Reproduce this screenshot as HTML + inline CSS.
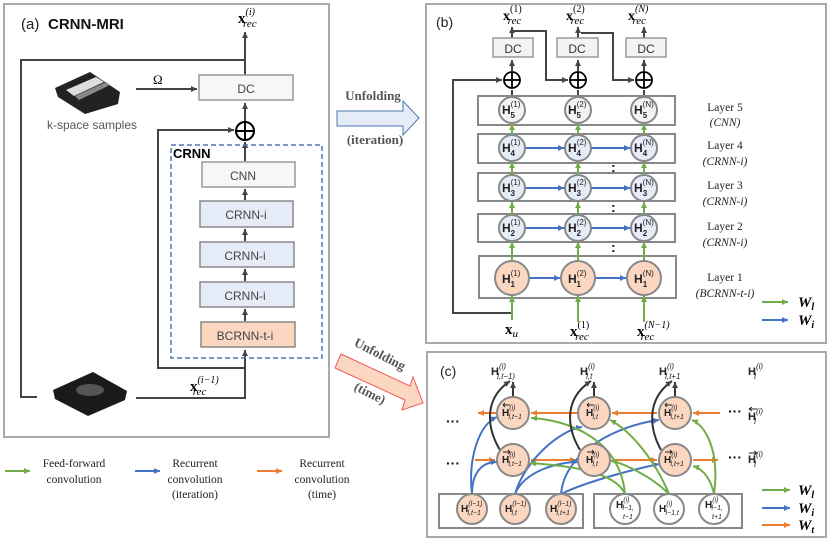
<!DOCTYPE html>
<html><head><meta charset="utf-8"><style>
html,body{margin:0;padding:0;background:#fff}
svg{display:block}
.s{font-family:"Liberation Sans",sans-serif}
.r{font-family:"Liberation Serif",serif}
</style></head><body>
<svg width="830" height="546" viewBox="0 0 830 546" xmlns="http://www.w3.org/2000/svg">
<defs>
<marker id="k" markerWidth="8" markerHeight="8" refX="6" refY="3" orient="auto" markerUnits="userSpaceOnUse"><path d="M0,0 L6,3 L0,6z" fill="#444"/></marker>
<marker id="g" markerWidth="8" markerHeight="8" refX="6" refY="3" orient="auto" markerUnits="userSpaceOnUse"><path d="M0,0 L6,3 L0,6z" fill="#70ad47"/></marker>
<marker id="b" markerWidth="8" markerHeight="8" refX="6" refY="3" orient="auto" markerUnits="userSpaceOnUse"><path d="M0,0 L6,3 L0,6z" fill="#4472c4"/></marker>
<marker id="o" markerWidth="8" markerHeight="8" refX="6" refY="3" orient="auto" markerUnits="userSpaceOnUse"><path d="M0,0 L6,3 L0,6z" fill="#ed7d31"/></marker>
</defs>

<!-- ===== Panel (a) ===== -->
<rect x="4" y="4" width="325" height="433" fill="#fff" stroke="#aaa" stroke-width="2"/>
<text x="21" y="29" class="s" font-size="15" fill="#222">(a)</text>
<text x="48" y="29" class="s" font-size="15" font-weight="bold" fill="#111">CRNN-MRI</text>
<text x="238" y="23" class="r" font-size="15" font-weight="bold">x<tspan font-size="10" dy="-8" font-weight="normal" font-style="italic">(i)</tspan><tspan font-size="11" dx="-12" dy="12" font-weight="normal" font-style="italic">rec</tspan></text>
<g stroke="#444" stroke-width="2" fill="none">
<line x1="245" y1="75" x2="245" y2="32" marker-end="url(#k)"/>
<polyline points="245,60 21,60 21,397 37,397"/>
<line x1="136" y1="89" x2="197" y2="89" marker-end="url(#k)"/>
<line x1="245" y1="122" x2="245" y2="103" marker-end="url(#k)"/>
<polyline points="245,368 158,368 158,130 234,130" marker-end="url(#k)"/>
<line x1="245" y1="161" x2="245" y2="142" marker-end="url(#k)"/>
<line x1="245" y1="200" x2="245" y2="189" marker-end="url(#k)"/>
<line x1="245" y1="241" x2="245" y2="229" marker-end="url(#k)"/>
<line x1="245" y1="281" x2="245" y2="269" marker-end="url(#k)"/>
<line x1="245" y1="321" x2="245" y2="309" marker-end="url(#k)"/>
<polyline points="136,398 245,398 245,350" marker-end="url(#k)"/>
</g>
<text x="153" y="84" class="r" font-size="13">Ω</text>
<rect x="199" y="75" width="94" height="25" fill="#f7f7f7" stroke="#999" stroke-width="1.5"/>
<text x="246" y="93" class="s" font-size="12" fill="#444" text-anchor="middle">DC</text>
<circle cx="245" cy="131" r="9" fill="#fff" stroke="#000" stroke-width="2"/>
<line x1="236" y1="131" x2="254" y2="131" stroke="#000" stroke-width="2"/>
<line x1="245" y1="122" x2="245" y2="140" stroke="#000" stroke-width="2"/>
<rect x="171" y="145" width="151" height="213" fill="none" stroke="#4a7ab0" stroke-width="1.5" stroke-dasharray="5,3"/>
<text x="173" y="158" class="s" font-size="13" font-weight="bold">CRNN</text>
<rect x="202" y="162" width="93" height="25" fill="#f7f7f7" stroke="#999" stroke-width="1.5"/>
<text x="243" y="180" class="s" font-size="12" fill="#444" text-anchor="middle">CNN</text>
<rect x="200" y="201" width="93" height="26" fill="#e5ecf7" stroke="#888" stroke-width="1.5"/>
<text x="246" y="219" class="s" font-size="12" fill="#444" text-anchor="middle">CRNN-i</text>
<rect x="200" y="242" width="94" height="25" fill="#e5ecf7" stroke="#888" stroke-width="1.5"/>
<text x="245" y="260" class="s" font-size="12" fill="#444" text-anchor="middle">CRNN-i</text>
<rect x="200" y="282" width="94" height="25" fill="#e5ecf7" stroke="#888" stroke-width="1.5"/>
<text x="245" y="300" class="s" font-size="12" fill="#444" text-anchor="middle">CRNN-i</text>
<rect x="201" y="322" width="94" height="25" fill="#fbd7c2" stroke="#888" stroke-width="1.5"/>
<text x="245" y="340" class="s" font-size="12" fill="#444" text-anchor="middle">BCRNN-t-i</text>
<!-- k-space image -->
<polygon points="55,88 90,72 120,92 118,104 85,114 58,97" fill="#222"/>
<polygon points="66,90 96,77 104,82 74,96" fill="#ddd"/>
<polygon points="75,96 106,82 110,85 79,100" fill="#888"/>
<text x="92" y="129" class="s" font-size="12" fill="#555" text-anchor="middle">k-space samples</text>
<!-- image slab -->
<polygon points="53,390 93,372 127,391 125,400 88,416 55,399" fill="#1a1a1a"/>
<ellipse cx="90" cy="390" rx="14" ry="6" fill="#555"/>
<text x="190" y="391" class="r" font-size="15" font-weight="bold">x<tspan font-size="10" dy="-8" font-weight="normal" font-style="italic">(i−1)</tspan><tspan font-size="11" dx="-26" dy="12" font-weight="normal" font-style="italic">rec</tspan></text>

<!-- Unfolding arrows -->
<text x="373" y="100" class="r" font-size="13" font-weight="bold" fill="#555" text-anchor="middle">Unfolding</text>
<polygon points="337,111 403,111 403,101 419,118 403,135 403,126 337,126" fill="#e5ecf7" stroke="#4a7ab0" stroke-width="1"/>
<text x="375" y="144" class="r" font-size="13" font-weight="bold" fill="#555" text-anchor="middle">(iteration)</text>
<text x="378" y="358" class="r" font-size="13" font-weight="bold" fill="#555" text-anchor="middle" transform="rotate(27 378 358)">Unfolding</text>
<polygon points="341,354 410,386 413,377 423,403 402,410 405,400 335,368" fill="#fbd7c2" stroke="#f05a5a" stroke-width="1"/>
<text x="368" y="397" class="r" font-size="13" font-weight="bold" fill="#555" text-anchor="middle" transform="rotate(27 368 397)">(time)</text>

<!-- bottom-left legend -->
<line x1="5" y1="471" x2="30" y2="471" stroke="#70ad47" stroke-width="2" marker-end="url(#g)"/>
<text x="74" y="467" class="r" font-size="11.5" fill="#222" text-anchor="middle">Feed-forward</text>
<text x="74" y="483" class="r" font-size="11.5" fill="#222" text-anchor="middle">convolution</text>
<line x1="135" y1="471" x2="160" y2="471" stroke="#4472c4" stroke-width="2" marker-end="url(#b)"/>
<text x="195" y="467" class="r" font-size="11.5" fill="#222" text-anchor="middle">Recurrent</text>
<text x="195" y="483" class="r" font-size="11.5" fill="#222" text-anchor="middle">convolution</text>
<text x="195" y="498" class="r" font-size="11.5" fill="#222" text-anchor="middle">(iteration)</text>
<line x1="257" y1="471" x2="282" y2="471" stroke="#ed7d31" stroke-width="2" marker-end="url(#o)"/>
<text x="322" y="467" class="r" font-size="11.5" fill="#222" text-anchor="middle">Recurrent</text>
<text x="322" y="483" class="r" font-size="11.5" fill="#222" text-anchor="middle">convolution</text>
<text x="322" y="498" class="r" font-size="11.5" fill="#222" text-anchor="middle">(time)</text>

<!-- ===== Panel (b) ===== -->
<rect x="426" y="4" width="400" height="339" fill="#fff" stroke="#aaa" stroke-width="2"/>
<text x="436" y="27" class="s" font-size="14" fill="#222">(b)</text>
<g class="r" font-size="14" font-weight="bold">
<text x="503" y="20">x<tspan font-size="10" dy="-8" font-weight="normal">(1)</tspan><tspan font-size="11" dx="-14" dy="12" font-weight="normal" font-style="italic">rec</tspan></text>
<text x="566" y="20">x<tspan font-size="10" dy="-8" font-weight="normal">(2)</tspan><tspan font-size="11" dx="-14" dy="12" font-weight="normal" font-style="italic">rec</tspan></text>
<text x="628" y="20">x<tspan font-size="10" dy="-8" font-weight="normal" font-style="italic">(N)</tspan><tspan font-size="11" dx="-16" dy="12" font-weight="normal" font-style="italic">rec</tspan></text>
</g>
<g stroke="#444" stroke-width="2" fill="none">
<line x1="512" y1="38" x2="512" y2="27" marker-end="url(#k)"/>
<line x1="578" y1="38" x2="578" y2="27" marker-end="url(#k)"/>
<line x1="644" y1="38" x2="644" y2="27" marker-end="url(#k)"/>
<polyline points="512,31 546,31 546,80 568,80" marker-end="url(#k)"/>
<polyline points="581,33 613,33 613,80 634,80" marker-end="url(#k)"/>
<polyline points="512,313 453,313 453,80 502,80" marker-end="url(#k)"/>
<line x1="512" y1="71" x2="512" y2="60" marker-end="url(#k)"/>
<line x1="578" y1="71" x2="578" y2="60" marker-end="url(#k)"/>
<line x1="644" y1="71" x2="644" y2="60" marker-end="url(#k)"/>
<line x1="512" y1="96" x2="512" y2="90"/>
<line x1="578" y1="96" x2="578" y2="90"/>
<line x1="644" y1="96" x2="644" y2="90"/>
</g>
<g fill="#f3f3f3" stroke="#999" stroke-width="1.5">
<rect x="493" y="38" width="40" height="19"/><rect x="557" y="38" width="41" height="19"/><rect x="626" y="38" width="40" height="19"/>
</g>
<g class="s" font-size="12" fill="#333" text-anchor="middle">
<text x="513" y="53">DC</text><text x="577" y="53">DC</text><text x="646" y="53">DC</text>
</g>
<g fill="#fff" stroke="#000" stroke-width="1.8">
<circle cx="512" cy="80" r="8"/><circle cx="578" cy="80" r="8"/><circle cx="644" cy="80" r="8"/>
</g>
<g stroke="#000" stroke-width="1.8">
<line x1="504" y1="80" x2="520" y2="80"/><line x1="512" y1="72" x2="512" y2="88"/>
<line x1="570" y1="80" x2="586" y2="80"/><line x1="578" y1="72" x2="578" y2="88"/>
<line x1="636" y1="80" x2="652" y2="80"/><line x1="644" y1="72" x2="644" y2="88"/>
</g>
<g fill="#fff" stroke="#888" stroke-width="2">
<rect x="478" y="96" width="197" height="29"/>
<rect x="478" y="134" width="197" height="29"/>
<rect x="478" y="173" width="197" height="28"/>
<rect x="478" y="214" width="197" height="28"/>
<rect x="479" y="256" width="197" height="42"/>
</g>
<g stroke="#70ad47" stroke-width="2" marker-end="url(#g)">
<line x1="512" y1="134" x2="512" y2="124"/><line x1="578" y1="134" x2="578" y2="124"/><line x1="644" y1="134" x2="644" y2="124"/>
<line x1="512" y1="174" x2="512" y2="162"/><line x1="578" y1="174" x2="578" y2="162"/><line x1="644" y1="174" x2="644" y2="162"/>
<line x1="512" y1="214" x2="512" y2="202"/><line x1="578" y1="214" x2="578" y2="202"/><line x1="644" y1="214" x2="644" y2="202"/>
<line x1="512" y1="261" x2="512" y2="242"/><line x1="578" y1="261" x2="578" y2="242"/><line x1="644" y1="261" x2="644" y2="242"/>
<line x1="512" y1="320" x2="512" y2="296"/><line x1="578" y1="322" x2="578" y2="296"/><line x1="644" y1="322" x2="644" y2="296"/>
</g>
<g stroke="#4472c4" stroke-width="2" marker-end="url(#b)">
<line x1="525" y1="148" x2="564" y2="148"/><line x1="591" y1="148" x2="630" y2="148"/>
<line x1="525" y1="188" x2="564" y2="188"/><line x1="591" y1="188" x2="630" y2="188"/>
<line x1="525" y1="228" x2="564" y2="228"/><line x1="591" y1="228" x2="630" y2="228"/>
<line x1="529" y1="278" x2="560" y2="278"/><line x1="595" y1="278" x2="626" y2="278"/>
</g>
<g stroke="#888" stroke-width="2">
<circle cx="512" cy="110" r="13" fill="#f3f3f3"/><circle cx="578" cy="110" r="13" fill="#f3f3f3"/><circle cx="644" cy="110" r="13" fill="#f3f3f3"/>
<circle cx="512" cy="148" r="13" fill="#e5ecf7"/><circle cx="578" cy="148" r="13" fill="#e5ecf7"/><circle cx="644" cy="148" r="13" fill="#e5ecf7"/>
<circle cx="512" cy="188" r="13" fill="#e5ecf7"/><circle cx="578" cy="188" r="13" fill="#e5ecf7"/><circle cx="644" cy="188" r="13" fill="#e5ecf7"/>
<circle cx="512" cy="228" r="13" fill="#e5ecf7"/><circle cx="578" cy="228" r="13" fill="#e5ecf7"/><circle cx="644" cy="228" r="13" fill="#e5ecf7"/>
<circle cx="512" cy="278" r="17" fill="#fbd7c2"/><circle cx="578" cy="278" r="17" fill="#fbd7c2"/><circle cx="644" cy="278" r="17" fill="#fbd7c2"/>
</g>
<g class="s" font-size="12" font-weight="bold" fill="#222">
<text x="502" y="114">H<tspan font-size="8" font-weight="normal" dy="-7">(1)</tspan><tspan font-size="8" dx="-10" dy="11">5</tspan></text>
<text x="568" y="114">H<tspan font-size="8" font-weight="normal" dy="-7">(2)</tspan><tspan font-size="8" dx="-10" dy="11">5</tspan></text>
<text x="634" y="114">H<tspan font-size="8" font-weight="normal" dy="-7">(N)</tspan><tspan font-size="8" dx="-11" dy="11">5</tspan></text>
<text x="502" y="152">H<tspan font-size="8" font-weight="normal" dy="-7">(1)</tspan><tspan font-size="8" dx="-10" dy="11">4</tspan></text>
<text x="568" y="152">H<tspan font-size="8" font-weight="normal" dy="-7">(2)</tspan><tspan font-size="8" dx="-10" dy="11">4</tspan></text>
<text x="634" y="152">H<tspan font-size="8" font-weight="normal" dy="-7">(N)</tspan><tspan font-size="8" dx="-11" dy="11">4</tspan></text>
<text x="502" y="192">H<tspan font-size="8" font-weight="normal" dy="-7">(1)</tspan><tspan font-size="8" dx="-10" dy="11">3</tspan></text>
<text x="568" y="192">H<tspan font-size="8" font-weight="normal" dy="-7">(2)</tspan><tspan font-size="8" dx="-10" dy="11">3</tspan></text>
<text x="634" y="192">H<tspan font-size="8" font-weight="normal" dy="-7">(N)</tspan><tspan font-size="8" dx="-11" dy="11">3</tspan></text>
<text x="502" y="232">H<tspan font-size="8" font-weight="normal" dy="-7">(1)</tspan><tspan font-size="8" dx="-10" dy="11">2</tspan></text>
<text x="568" y="232">H<tspan font-size="8" font-weight="normal" dy="-7">(2)</tspan><tspan font-size="8" dx="-10" dy="11">2</tspan></text>
<text x="634" y="232">H<tspan font-size="8" font-weight="normal" dy="-7">(N)</tspan><tspan font-size="8" dx="-11" dy="11">2</tspan></text>
<text x="502" y="283">H<tspan font-size="8" font-weight="normal" dy="-7">(1)</tspan><tspan font-size="8" dx="-10" dy="11">1</tspan></text>
<text x="568" y="283">H<tspan font-size="8" font-weight="normal" dy="-7">(2)</tspan><tspan font-size="8" dx="-10" dy="11">1</tspan></text>
<text x="634" y="283">H<tspan font-size="8" font-weight="normal" dy="-7">(N)</tspan><tspan font-size="8" dx="-11" dy="11">1</tspan></text>
</g>
<g class="s" font-size="14" font-weight="bold" fill="#111"><text x="611" y="172">:</text><text x="611" y="212">:</text><text x="611" y="252">:</text></g>
<g class="r" font-size="11.5" fill="#222" text-anchor="middle">
<text x="725" y="111">Layer 5</text><text x="725" y="126" font-style="italic">(CNN)</text>
<text x="725" y="149">Layer 4</text><text x="725" y="165" font-style="italic">(CRNN-i)</text>
<text x="725" y="189">Layer 3</text><text x="725" y="205" font-style="italic">(CRNN-i)</text>
<text x="725" y="230">Layer 2</text><text x="725" y="246" font-style="italic">(CRNN-i)</text>
<text x="725" y="281">Layer 1</text><text x="725" y="297" font-style="italic">(BCRNN-t-i)</text>
</g>
<g class="r" font-size="15" font-weight="bold">
<text x="505" y="334">x<tspan font-size="11" font-weight="normal" font-style="italic" dy="3">u</tspan></text>
<text x="570" y="336">x<tspan font-size="10" dy="-8" font-weight="normal">(1)</tspan><tspan font-size="11" dx="-14" dy="12" font-weight="normal" font-style="italic">rec</tspan></text>
<text x="637" y="336">x<tspan font-size="10" dy="-8" font-weight="normal" font-style="italic">(N−1)</tspan><tspan font-size="11" dx="-29" dy="12" font-weight="normal" font-style="italic">rec</tspan></text>
</g>
<line x1="762" y1="302" x2="788" y2="302" stroke="#70ad47" stroke-width="2" marker-end="url(#g)"/>
<line x1="762" y1="320" x2="788" y2="320" stroke="#4472c4" stroke-width="2" marker-end="url(#b)"/>
<g class="r" font-size="15" font-weight="bold" font-style="italic">
<text x="798" y="307">W<tspan font-size="10" dy="3">l</tspan></text>
<text x="798" y="325">W<tspan font-size="10" dy="3">i</tspan></text>
</g>

<!-- ===== Panel (c) ===== -->
<rect x="427" y="352" width="399" height="185" fill="#fff" stroke="#aaa" stroke-width="2"/>
<text x="440" y="376" class="s" font-size="14" fill="#222">(c)</text>
<g class="s" font-size="11" font-weight="bold" fill="#222">
<text x="491" y="375">H<tspan font-size="8" font-weight="normal" font-style="italic" dy="-6">(i)</tspan><tspan font-size="8" font-weight="normal" font-style="italic" dx="-9" dy="10">l,t−1)</tspan></text>
<text x="580" y="375">H<tspan font-size="8" font-weight="normal" font-style="italic" dy="-6">(i)</tspan><tspan font-size="8" font-weight="normal" font-style="italic" dx="-9" dy="10">l,t</tspan></text>
<text x="659" y="375">H<tspan font-size="8" font-weight="normal" font-style="italic" dy="-6">(i)</tspan><tspan font-size="8" font-weight="normal" font-style="italic" dx="-9" dy="10">l,t+1</tspan></text>
<text x="748" y="375">H<tspan font-size="8" font-weight="normal" font-style="italic" dy="-6">(i)</tspan><tspan font-size="8" font-weight="normal" font-style="italic" dx="-9" dy="10">l</tspan></text>
<text x="748" y="420">H<tspan font-size="8" font-weight="normal" font-style="italic" dy="-6">(i)</tspan><tspan font-size="8" font-weight="normal" font-style="italic" dx="-9" dy="10">l</tspan></text>
<text x="748" y="463">H<tspan font-size="8" font-weight="normal" font-style="italic" dy="-6">(i)</tspan><tspan font-size="8" font-weight="normal" font-style="italic" dx="-9" dy="10">l</tspan></text>
</g>
<g stroke="#222" stroke-width="1" fill="none">
<path d="M749,409 h8 M749,409 l3,-2 M749,409 l3,2"/>
<path d="M749,453 h8 M757,453 l-3,-2 M757,453 l-3,2"/>
</g>
<g class="s" font-size="14" font-weight="bold" fill="#111">
<text x="446" y="426">···</text><text x="446" y="468">···</text>
<text x="728" y="416">···</text><text x="728" y="462">···</text>
</g>
<g stroke="#ed7d31" stroke-width="2" fill="none" marker-end="url(#o)">
<line x1="496" y1="413" x2="478" y2="413"/>
<line x1="578" y1="413" x2="531" y2="413"/>
<line x1="720" y1="413" x2="693" y2="413"/>
<line x1="657" y1="413" x2="612" y2="413"/>
<line x1="475" y1="460" x2="495" y2="460"/>
<line x1="531" y1="460" x2="576" y2="460"/>
<line x1="612" y1="460" x2="657" y2="460"/>
<line x1="693" y1="460" x2="718" y2="460"/>
</g>
<rect x="439" y="494" width="144" height="34" fill="#fff" stroke="#888" stroke-width="2"/>
<rect x="594" y="494" width="148" height="34" fill="#fff" stroke="#888" stroke-width="2"/>
<g stroke="#4472c4" stroke-width="2" fill="none" marker-end="url(#b)">
<path d="M472,494 C468,460 478,425 497,417"/>
<path d="M472,494 C472,475 480,462 497,462"/>
<path d="M515,494 C525,460 560,430 582,427"/>
<path d="M515,494 C525,470 560,462 578,462"/>
<path d="M561,494 C565,450 620,425 659,420"/>
<path d="M561,494 C590,480 640,468 659,464"/>
</g>
<g stroke="#70ad47" stroke-width="2" fill="none" marker-end="url(#g)">
<path d="M625,494 C615,470 560,465 530,463"/>
<path d="M625,494 C620,440 570,420 531,418"/>
<path d="M669,494 C650,475 620,462 611,461"/>
<path d="M669,494 C655,460 630,430 610,420"/>
<path d="M714,494 C710,475 700,468 693,466"/>
<path d="M714,494 C720,450 705,425 692,420"/>
</g>
<g stroke="#333" stroke-width="2" fill="none" marker-end="url(#k)">
<path d="M513,397 L513,382"/>
<path d="M500,450 C488,430 482,400 510,381"/>
<path d="M594,397 L594,382"/>
<path d="M580,450 C568,430 562,400 591,381"/>
<path d="M675,397 L675,382"/>
<path d="M661,450 C650,430 645,400 672,381"/>
</g>
<g fill="#fbd7c2" stroke="#888" stroke-width="2">
<circle cx="513" cy="413" r="16"/><circle cx="594" cy="413" r="16"/><circle cx="675" cy="413" r="16"/>
<circle cx="513" cy="460" r="16"/><circle cx="594" cy="460" r="16"/><circle cx="675" cy="460" r="16"/>
<circle cx="472" cy="509" r="15"/><circle cx="515" cy="509" r="15"/><circle cx="561" cy="509" r="15"/>
</g>
<g fill="#fff" stroke="#888" stroke-width="2">
<circle cx="625" cy="509" r="15"/><circle cx="669" cy="509" r="15"/><circle cx="714" cy="509" r="15"/>
</g>
<g class="s" font-size="10" font-weight="bold" fill="#222">
<text x="502" y="416">H<tspan font-size="7" font-weight="normal" font-style="italic" dy="-6">(i)</tspan><tspan font-size="7" font-weight="normal" font-style="italic" dx="-7" dy="9">l,t−1</tspan></text>
<text x="586" y="416">H<tspan font-size="7" font-weight="normal" font-style="italic" dy="-6">(i)</tspan><tspan font-size="7" font-weight="normal" font-style="italic" dx="-7" dy="9">l,t</tspan></text>
<text x="664" y="416">H<tspan font-size="7" font-weight="normal" font-style="italic" dy="-6">(i)</tspan><tspan font-size="7" font-weight="normal" font-style="italic" dx="-7" dy="9">l,t+1</tspan></text>
<text x="502" y="463">H<tspan font-size="7" font-weight="normal" font-style="italic" dy="-6">(i)</tspan><tspan font-size="7" font-weight="normal" font-style="italic" dx="-7" dy="9">l,t−1</tspan></text>
<text x="586" y="463">H<tspan font-size="7" font-weight="normal" font-style="italic" dy="-6">(i)</tspan><tspan font-size="7" font-weight="normal" font-style="italic" dx="-7" dy="9">l,t</tspan></text>
<text x="664" y="463">H<tspan font-size="7" font-weight="normal" font-style="italic" dy="-6">(i)</tspan><tspan font-size="7" font-weight="normal" font-style="italic" dx="-7" dy="9">l,t+1</tspan></text>
<text x="461" y="512">H<tspan font-size="7" font-weight="normal" font-style="italic" dy="-6">(l−1)</tspan><tspan font-size="7" font-weight="normal" font-style="italic" dx="-15" dy="9">l,t−1</tspan></text>
<text x="505" y="512">H<tspan font-size="7" font-weight="normal" font-style="italic" dy="-6">(l−1)</tspan><tspan font-size="7" font-weight="normal" font-style="italic" dx="-15" dy="9">l,t</tspan></text>
<text x="550" y="512">H<tspan font-size="7" font-weight="normal" font-style="italic" dy="-6">(l−1)</tspan><tspan font-size="7" font-weight="normal" font-style="italic" dx="-15" dy="9">l,t+1</tspan></text>
<text x="616" y="508">H<tspan font-size="7" font-weight="normal" font-style="italic" dy="-6">(i)</tspan><tspan font-size="7" font-weight="normal" font-style="italic" dx="-7" dy="8">l−1,</tspan><tspan font-size="7" font-weight="normal" font-style="italic" x="623" dy="9">t−1</tspan></text>
<text x="659" y="512">H<tspan font-size="7" font-weight="normal" font-style="italic" dy="-6">(i)</tspan><tspan font-size="7" font-weight="normal" font-style="italic" dx="-7" dy="9">l−1,t</tspan></text>
<text x="705" y="508">H<tspan font-size="7" font-weight="normal" font-style="italic" dy="-6">(i)</tspan><tspan font-size="7" font-weight="normal" font-style="italic" dx="-7" dy="8">l−1,</tspan><tspan font-size="7" font-weight="normal" font-style="italic" x="712" dy="9">t+1</tspan></text>
</g>
<g stroke="#222" stroke-width="0.9" fill="none">
<path d="M503,405 h7 M503,405 l2,-2 M503,405 l2,2"/><path d="M587,405 h7 M587,405 l2,-2 M587,405 l2,2"/><path d="M665,405 h7 M665,405 l2,-2 M665,405 l2,2"/>
<path d="M503,452 h7 M510,452 l-2,-2 M510,452 l-2,2"/><path d="M587,452 h7 M594,452 l-2,-2 M594,452 l-2,2"/><path d="M665,452 h7 M672,452 l-2,-2 M672,452 l-2,2"/>
</g>
<line x1="762" y1="490" x2="790" y2="490" stroke="#70ad47" stroke-width="2" marker-end="url(#g)"/>
<line x1="762" y1="508" x2="790" y2="508" stroke="#4472c4" stroke-width="2" marker-end="url(#b)"/>
<line x1="762" y1="525" x2="790" y2="525" stroke="#ed7d31" stroke-width="2" marker-end="url(#o)"/>
<g class="r" font-size="15" font-weight="bold" font-style="italic">
<text x="798" y="495">W<tspan font-size="10" dy="3">l</tspan></text>
<text x="798" y="513">W<tspan font-size="10" dy="3">i</tspan></text>
<text x="798" y="530">W<tspan font-size="10" dy="3">t</tspan></text>
</g>
</svg>
</body></html>
